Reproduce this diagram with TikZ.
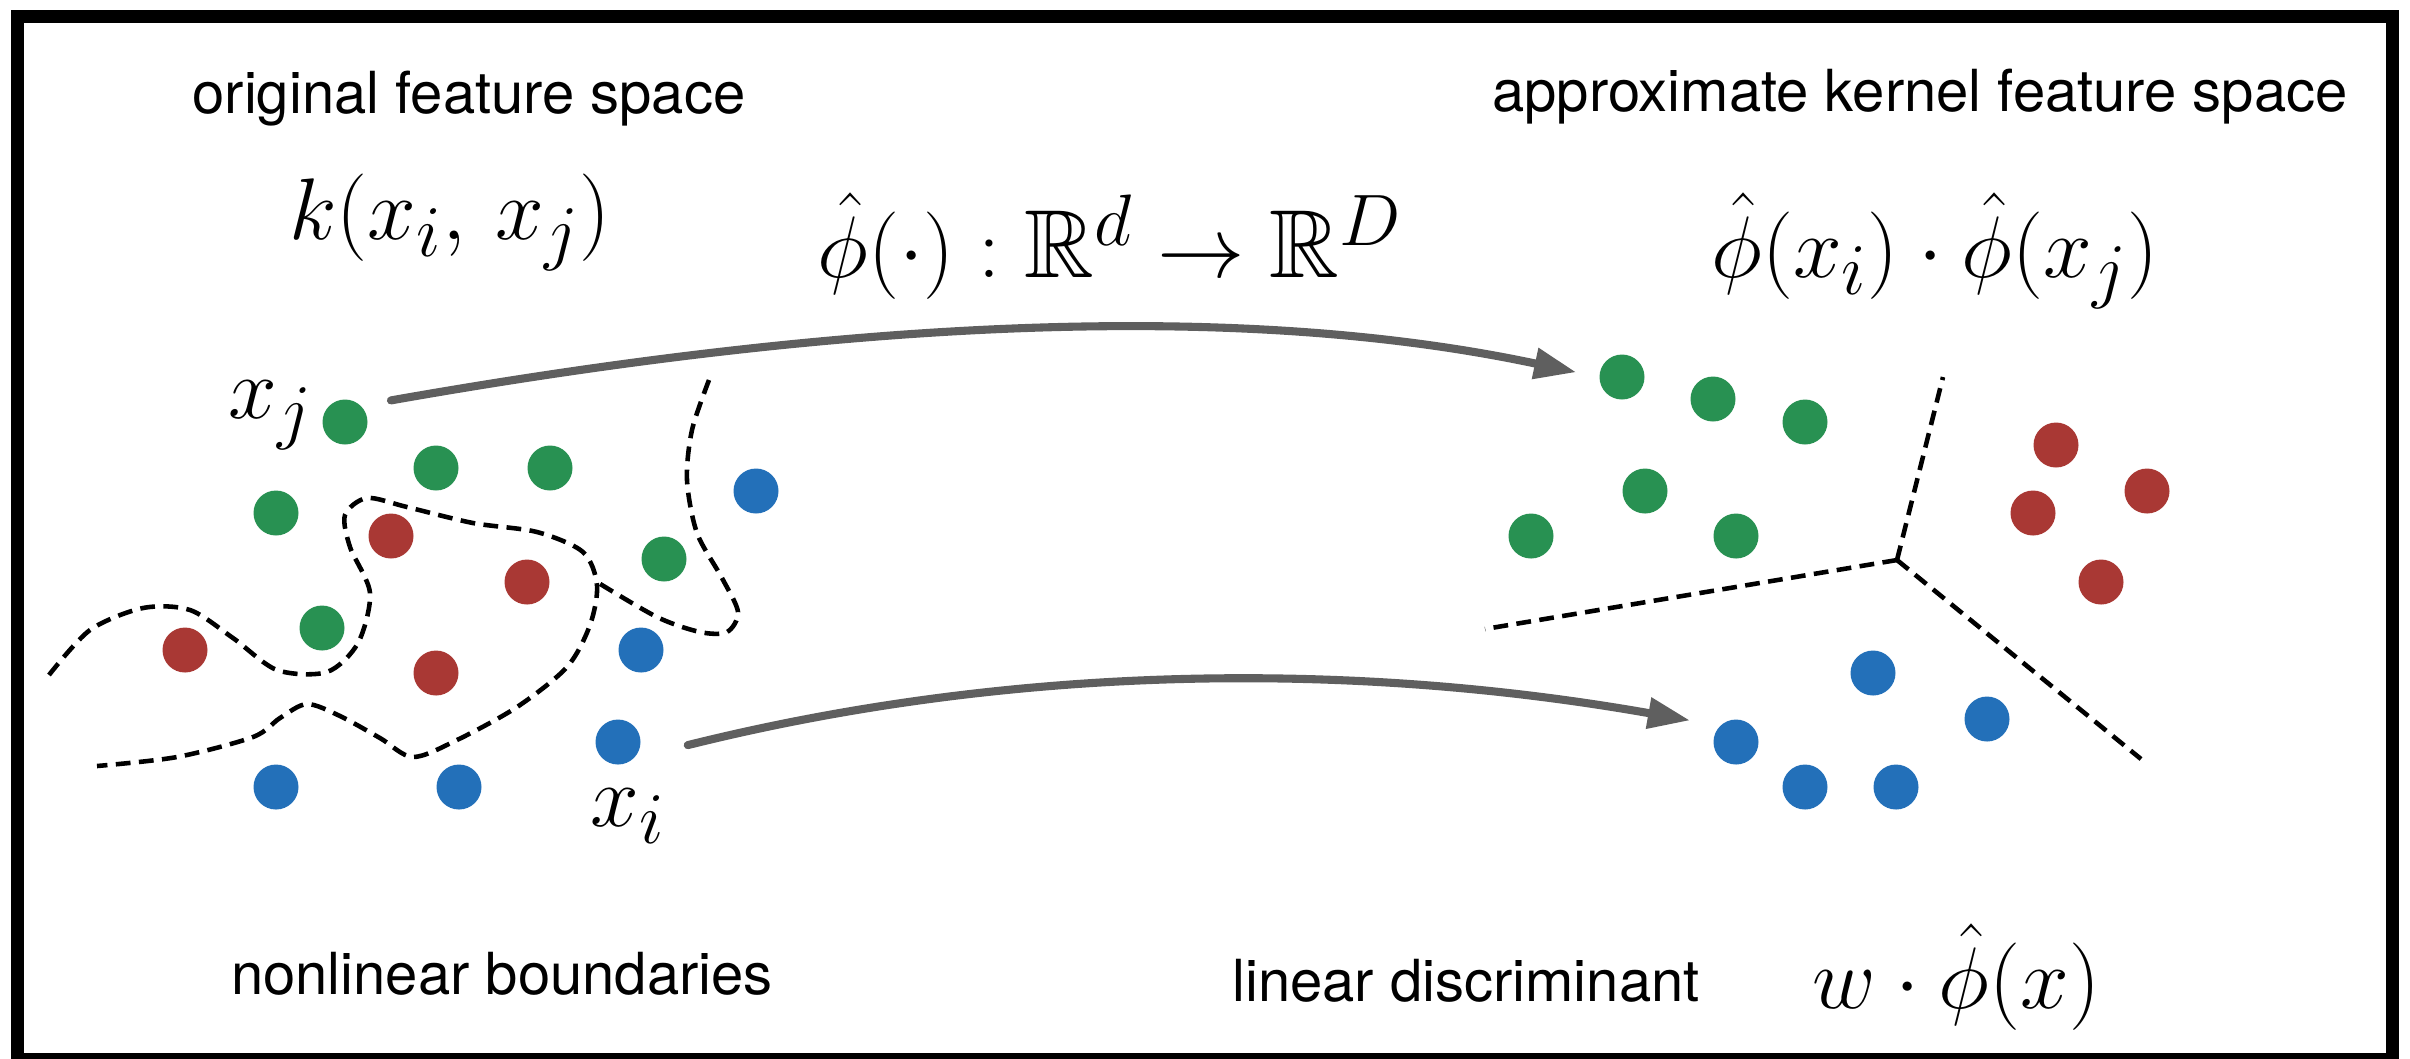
\documentclass[tikz,border=0pt]{standalone}
\usepackage[no-math]{fontspec}
\setmainfont{TeX Gyre Heros}
\usepackage{amssymb}
\usetikzlibrary{arrows.meta}
\definecolor{ptgreen}{RGB}{40,145,82}
\definecolor{ptred}{RGB}{169,56,52}
\definecolor{ptblue}{RGB}{35,112,185}
\definecolor{arrgray}{RGB}{95,95,95}

\begin{document}
\begin{tikzpicture}[>=Stealth,
 dot/.style={circle,inner sep=0pt,minimum size=0.45cm},
 gdot/.style={dot,fill=ptgreen}, rdot/.style={dot,fill=ptred}, bdot/.style={dot,fill=ptblue},
 lbl/.style={anchor=base,font=\fontsize{16.5}{20}\selectfont},
 mth/.style={anchor=base,font=\fontsize{27.5}{32}\selectfont},
 bound/.style={line width=1.3pt,dash pattern=on 4.2pt off 2.4pt},
 map/.style={-{Triangle[length=12pt,width=8.5pt]},line width=2.3pt,draw=arrgray,line cap=round}]
\clip (0,0) rectangle (24.10,-10.58);
\draw[line width=0.13cm] (0.175,-0.165) rectangle (23.925,-10.59);

\node[lbl] (orig) at (4.69,-1.13) {original feature space};
\node[lbl] (approx) at (19.20,-1.11) {approximate kernel feature space};
\node[lbl] (nonlin) at (5.02,-9.94) {nonlinear boundaries};
\node[lbl] (lindisc) at (14.66,-10.01) {linear discriminant};
\node[mth] (kern) at (4.50,-2.39) {$k(x_i,\,x_j)$};
\node[mth] (phimap) at (11.10,-2.77) {$\hat\phi(\cdot):\mathbb{R}^d\rightarrow\mathbb{R}^D$};
\node[mth] (phidot) at (19.35,-2.77) {$\hat\phi(x_i)\cdot\hat\phi(x_j)$};
\node[mth] (wphi) at (19.56,-10.08) {$w\cdot\hat\phi(x)$};
\node[mth] (xjlab) at (2.71,-4.18) {$x_j$};
\node[mth] (xilab) at (6.28,-8.26) {$x_i$};

\node[gdot] (xj) at (3.45,-4.22) {}; \node[gdot] (lg2) at (4.36,-4.68) {};
\node[gdot] (lg3) at (5.50,-4.68) {}; \node[gdot] (lg4) at (2.76,-5.13) {};
\node[gdot] (lg5) at (6.64,-5.59) {}; \node[gdot] (lg6) at (3.22,-6.28) {};
\node[rdot] (lr1) at (3.91,-5.36) {}; \node[rdot] (lr2) at (5.27,-5.82) {};
\node[rdot] (lr3) at (1.85,-6.50) {}; \node[rdot] (lr4) at (4.36,-6.73) {};
\node[bdot] (lb1) at (7.56,-4.91) {}; \node[bdot] (lb2) at (6.41,-6.50) {};
\node[bdot] (xi) at (6.18,-7.42) {}; \node[bdot] (lb3) at (4.59,-7.87) {};
\node[bdot] (lb4) at (2.76,-7.87) {};

\node[gdot] (rg1) at (16.22,-3.77) {}; \node[gdot] (rg2) at (17.13,-3.99) {};
\node[gdot] (rg3) at (18.05,-4.22) {}; \node[gdot] (rg4) at (16.45,-4.91) {};
\node[gdot] (rg5) at (15.31,-5.36) {}; \node[gdot] (rg6) at (17.36,-5.36) {};
\node[rdot] (rr1) at (20.56,-4.45) {}; \node[rdot] (rr2) at (21.47,-4.91) {};
\node[rdot] (rr3) at (20.33,-5.13) {}; \node[rdot] (rr4) at (21.01,-5.82) {};
\node[bdot] (rb2) at (18.73,-6.73) {}; \node[bdot] (rb3) at (19.87,-7.19) {};
\node[bdot] (rb1) at (17.36,-7.42) {}; \node[bdot] (rb4) at (18.05,-7.87) {};
\node[bdot] (rb5) at (18.96,-7.87) {};

\draw[bound] plot[smooth] coordinates {(0.49,-6.75) (0.90,-6.30) (1.43,-6.08) (1.90,-6.10)
 (2.33,-6.38) (2.77,-6.70) (3.27,-6.72) (3.58,-6.43) (3.70,-5.93) (3.50,-5.47) (3.45,-5.15)
 (3.67,-4.98) (4.07,-5.07) (4.73,-5.23) (5.37,-5.32) (5.83,-5.52) (5.97,-5.85) (5.90,-6.25)
 (5.67,-6.67) (5.17,-7.07) (4.57,-7.40) (4.13,-7.57) (3.80,-7.38) (3.40,-7.16) (3.07,-7.04)
 (2.80,-7.18) (2.53,-7.37) (1.77,-7.57) (0.97,-7.66)};
\draw[bound] plot[smooth] coordinates {(7.09,-3.80) (6.92,-4.30) (6.87,-4.80) (6.97,-5.33)
 (7.22,-5.78) (7.38,-6.12) (7.27,-6.32) (7.00,-6.32) (6.57,-6.17) (5.97,-5.82)};

\coordinate (junc) at (18.97,-5.60);
\draw[bound] (junc) -- (14.85,-6.29);
\draw[bound] (junc) -- (19.43,-3.77);
\draw[bound] (junc) -- (21.41,-7.59);

\draw[map,shorten <=0.30cm,shorten >=0.23cm] (xj.north east) to[out=10,in=168,looseness=0.85] (rg1.west);
\draw[map,shorten <=0.55cm,shorten >=0.30cm] (xi.south east) to[out=14,in=170,looseness=0.9] (rb1.north west);
\end{tikzpicture}
\end{document}
